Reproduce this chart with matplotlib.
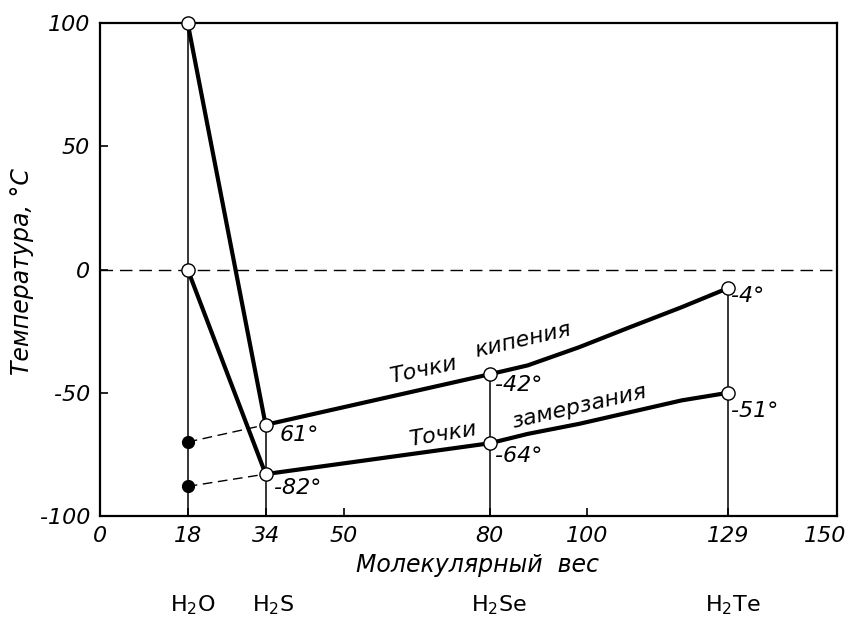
import matplotlib
matplotlib.use("Agg")
import matplotlib.pyplot as plt
import matplotlib.transforms as mtransforms
import numpy as np

# ---- data ----
molecules = [r"H$_2$O", r"H$_2$S", r"H$_2$Se", r"H$_2$Te"]
mol_weight = [18, 34, 80, 129]
boiling = [100, -63, -42.5, -7.5]          # plotted positions
freezing = [0, -83, -70.5, -50]
boil_labels = ["61°", "42°", "4°"]          # labels at H2S, H2Se, H2Te
freeze_labels = ["82°", "64°", "51°"]
extrap_boil = -70      # extrapolated (filled) point for H2O
extrap_freeze = -88

# traced points of the curved segments between H2Se and H2Te
boil_curve_x = [80, 87.8, 98.4, 108.8, 119.4, 129]
boil_curve_y = [-42.5, -38.9, -31.5, -23.4, -15.3, -7.5]
freeze_curve_x = [80, 87.8, 98.4, 108.8, 119.4, 129]
freeze_curve_y = [-70.5, -66.7, -62.6, -57.9, -53.1, -50]

x_ticks = [0, 18, 34, 50, 80, 100, 129, 150]
y_ticks = [-100, -50, 0, 50, 100]

# ---- figure ----
W, H = 849, 624
fig = plt.figure(figsize=(W / 100, H / 100), dpi=100)
ax = fig.add_axes([100 / W, 1 - 516 / H, (837 - 100) / W, (516 - 23) / H])
ax.set_xlim(0, 151.3)
ax.set_ylim(-100, 100)

thick = dict(color="black", lw=3.0, solid_capstyle="round", solid_joinstyle="round", zorder=3)

# thin verticals
ax.vlines(mol_weight, -100, boiling, colors="black", lw=1.1, zorder=2)
# zero dashed line
ax.axhline(0, color="black", lw=1.0, ls=(0, (9, 5)), zorder=1)

# H2O -> H2S steep segments
ax.plot(mol_weight[:2], boiling[:2], **thick)
ax.plot(mol_weight[:2], freezing[:2], **thick)
# H2S -> H2Se
ax.plot(mol_weight[1:3], boiling[1:3], **thick)
ax.plot(mol_weight[1:3], freezing[1:3], **thick)
# H2Se -> H2Te curved
ax.plot(boil_curve_x, boil_curve_y, **thick)
ax.plot(freeze_curve_x, freeze_curve_y, **thick)

# extrapolation dashed lines
ax.plot([mol_weight[0], mol_weight[1]], [extrap_boil, boiling[1]], color="black",
        lw=1.0, ls=(0, (7, 4)), zorder=2)
ax.plot([mol_weight[0], mol_weight[1]], [extrap_freeze, freezing[1]], color="black",
        lw=1.0, ls=(0, (7, 4)), zorder=2)
ax.plot([mol_weight[0]] * 2, [extrap_boil, extrap_freeze], "o", ms=8.5,
        mfc="black", mec="black", zorder=5)

# open circles
ax.plot(mol_weight, boiling, "o", ms=9.5, mfc="white", mec="black", mew=1.0,
        zorder=6, clip_on=False)
ax.plot(mol_weight, freezing, "o", ms=9.5, mfc="white", mec="black", mew=1.0,
        zorder=6, clip_on=False)

# degree labels
lab_font = dict(fontsize=16, style="italic", family="DejaVu Sans", va="center", ha="left")
boil_off = [(10, -7), (4, -8), (2, -6)]
freeze_off = [(6, -10), (4, -9), (2, -13)]
for i in range(3):
    t = boil_labels[i] if i == 0 else "-" + boil_labels[i]
    ax.annotate(t, (mol_weight[i + 1], boiling[i + 1]), xytext=boil_off[i],
                textcoords="offset points", zorder=7, **lab_font)
    ax.annotate("-" + freeze_labels[i], (mol_weight[i + 1], freezing[i + 1]),
                xytext=freeze_off[i], textcoords="offset points", zorder=7, **lab_font)

# curve captions
cap = dict(fontsize=16, style="italic", family="DejaVu Sans", ha="center", va="center")
ax.text(66.3, -40.9, "Точки", rotation=12, **cap)
ax.text(86.8, -28.7, "кипения", rotation=13, **cap)
ax.text(70.4, -66.8, "Точки", rotation=9.5, **cap)
ax.text(98.4, -55.5, "замерзания", rotation=13, **cap)

# axes style
for s in ax.spines.values():
    s.set_linewidth(1.6)
ax.set_xticks(x_ticks)
ax.set_yticks(y_ticks)
ax.set_xticklabels([str(v) for v in x_ticks])
ax.set_yticklabels([str(v) for v in y_ticks])
ax.tick_params(direction="in", length=6, width=1.2, labelsize=16, pad=7)
for lbl in ax.get_xticklabels() + ax.get_yticklabels():
    lbl.set_fontstyle("italic")
# no tick marks at the frame edges
xt = ax.xaxis.get_major_ticks()
xt[0].tick1line.set_visible(False)
xt[-1].tick1line.set_visible(False)
# keep the last x label inside the canvas
last = ax.get_xticklabels()[-1]
last.set_transform(last.get_transform() +
                   mtransforms.ScaledTranslation(-6 / 100, 0, fig.dpi_scale_trans))

# molecule names under the axis
tr = ax.get_xaxis_transform()
name_shift = [1.0, 1.5, 2.0, 1.0]
for xw, name, sh in zip(mol_weight, molecules, name_shift):
    ax.text(xw + sh, -0.18, name, transform=tr, ha="center", va="center",
            fontsize=16, clip_on=False)

fig.text(478 / W, 1 - 565 / H, "Молекулярный  вес", ha="center", va="center",
         fontsize=17, style="italic")
fig.text(22 / W, 1 - 272 / H, "Температура, °C", ha="center", va="center",
         fontsize=17, style="italic", rotation=90)

fig.savefig("out.png", dpi=100)
